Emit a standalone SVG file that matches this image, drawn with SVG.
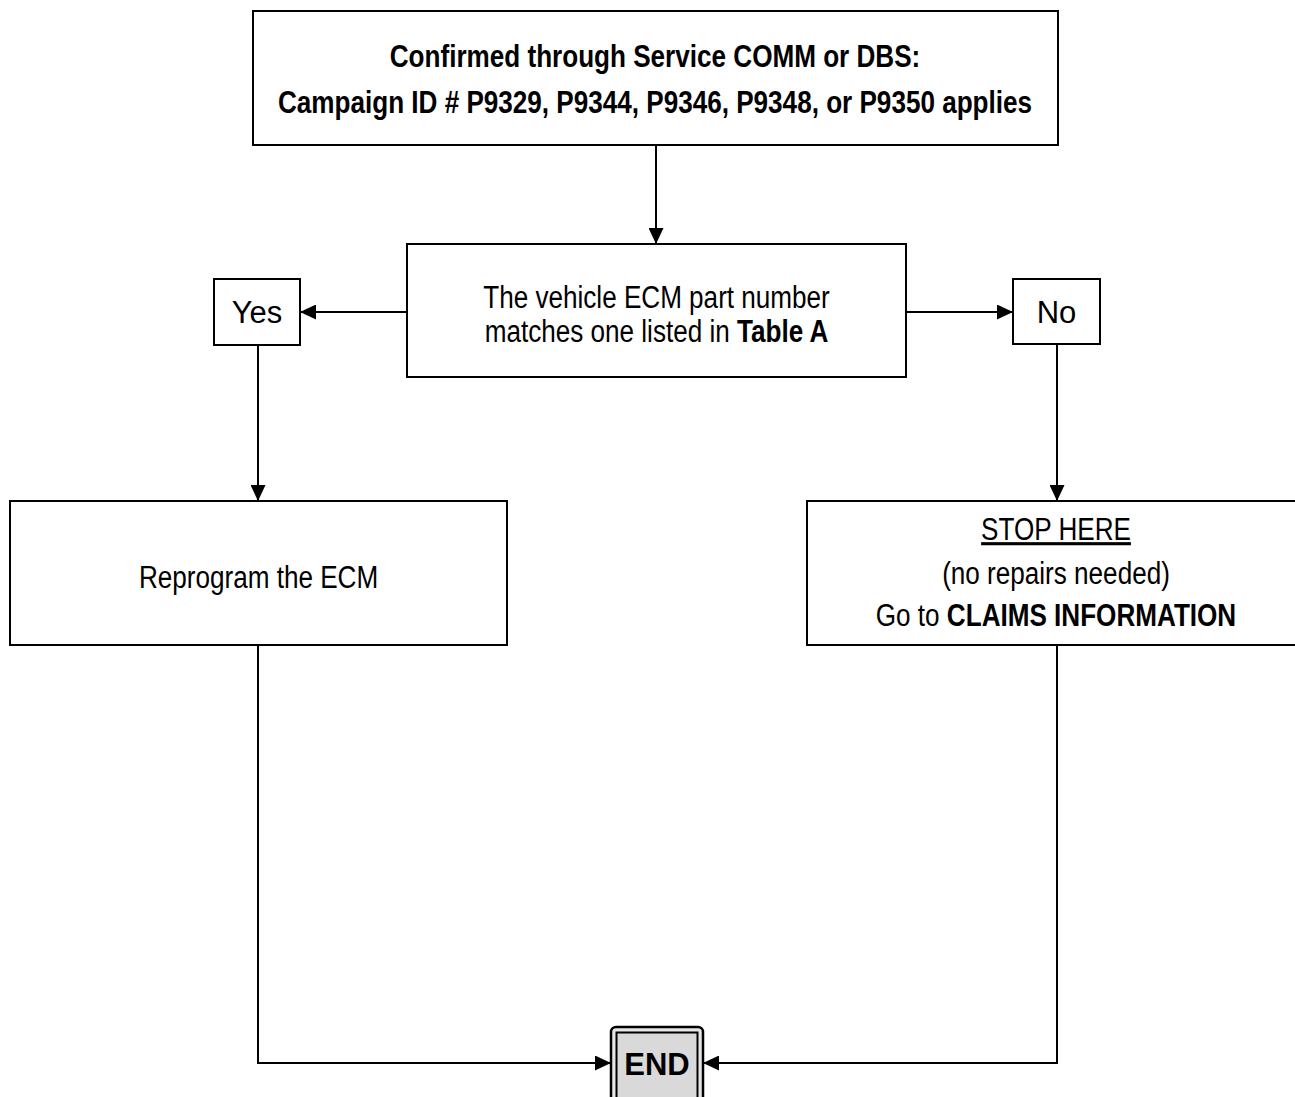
<svg xmlns="http://www.w3.org/2000/svg" width="1295" height="1097" viewBox="0 0 1295 1097">
  <defs>
    <marker id="arr" markerUnits="userSpaceOnUse" markerWidth="17" markerHeight="15" refX="16" refY="7.5" orient="auto">
      <path d="M0,0 L16,7.5 L0,15 z" fill="#000"/>
    </marker>
    <style>
      .box { fill: #fff; stroke: #000; stroke-width: 2; }
      .t { font-family: "Liberation Sans", Arial, sans-serif; font-size: 31px; fill: #000; text-anchor: middle; }
      .b { font-weight: bold; }
      .conn { fill: none; stroke: #000; stroke-width: 2; }
    </style>
  </defs>
  <rect width="1295" height="1097" fill="#fff"/>

  <g id="connectors">
    <line class="conn" x1="656" y1="145" x2="656" y2="244" marker-end="url(#arr)"/>
    <line class="conn" x1="407" y1="312" x2="300" y2="312" marker-end="url(#arr)"/>
    <line class="conn" x1="906" y1="312" x2="1013" y2="312" marker-end="url(#arr)"/>
    <line class="conn" x1="258" y1="345" x2="258" y2="501" marker-end="url(#arr)"/>
    <line class="conn" x1="1057" y1="345" x2="1057" y2="501" marker-end="url(#arr)"/>
    <polyline class="conn" points="258,645 258,1063 611,1063" marker-end="url(#arr)"/>
    <polyline class="conn" points="1057,645 1057,1063 703,1063" marker-end="url(#arr)"/>
  </g>

  <g id="start">
    <rect class="box" x="253" y="11" width="805" height="134"/>
    <g transform="translate(655,0) scale(0.842,1)">
      <text class="t b" x="0" y="67">Confirmed through Service COMM or DBS:</text>
      <text class="t b" x="0" y="113">Campaign ID # P9329, P9344, P9346, P9348, or P9350 applies</text>
    </g>
  </g>

  <g id="decision">
    <rect class="box" x="407" y="244" width="499" height="133"/>
    <g transform="translate(656.5,0) scale(0.842,1)">
      <text class="t" x="0" y="308">The vehicle ECM part number</text>
      <text class="t" x="0" y="342">matches one listed in <tspan class="b">Table A</tspan></text>
    </g>
  </g>

  <g id="yes">
    <rect class="box" x="214" y="279" width="86" height="66"/>
    <text class="t" x="257" y="323">Yes</text>
  </g>

  <g id="no">
    <rect class="box" x="1013" y="279" width="87" height="65"/>
    <text class="t" x="1056.5" y="323">No</text>
  </g>

  <g id="reprogram">
    <rect class="box" x="10" y="501" width="497" height="144"/>
    <g transform="translate(258.5,0) scale(0.842,1)">
      <text class="t" x="0" y="588">Reprogram the ECM</text>
    </g>
  </g>

  <g id="stop">
    <rect class="box" x="807" y="501" width="500" height="144"/>
    <g transform="translate(1056,0) scale(0.842,1)">
      <text class="t" x="0" y="540" text-decoration="underline">STOP HERE</text>
      <text class="t" x="0" y="584">(no repairs needed)</text>
      <text class="t" x="0" y="626">Go to <tspan class="b">CLAIMS INFORMATION</tspan></text>
    </g>
  </g>

  <g id="end">
    <rect x="611" y="1027" width="92" height="80" rx="5" fill="#e6e6e6" stroke="#000" stroke-width="2.5"/>
    <rect x="616.5" y="1032.5" width="81" height="70" fill="#d9d9d9" stroke="#000" stroke-width="2"/>
    <text class="t b" x="657" y="1075">END</text>
  </g>
</svg>
